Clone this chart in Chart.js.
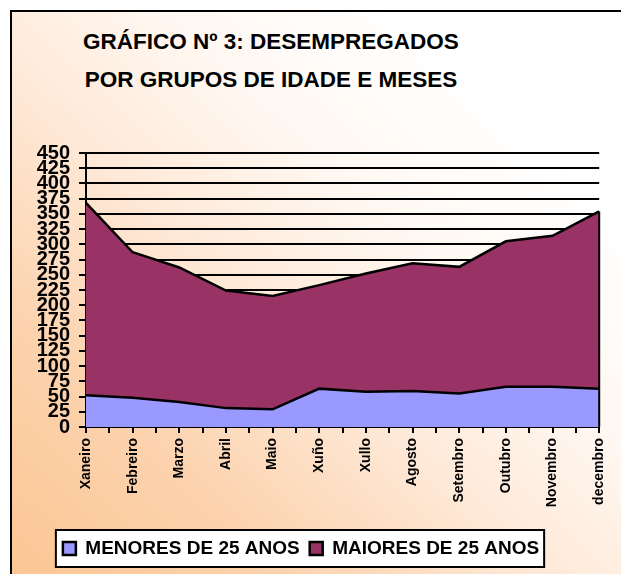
<!DOCTYPE html>
<html>
<head>
<meta charset="utf-8">
<script src="https://cdn.jsdelivr.net/npm/chart.js@4"></script>
<style>
  html, body { margin: 0; padding: 0; overflow: hidden; width: 621px; height: 574px; background: #fff; }
  #frame {
    position: absolute; left: 10px; top: 10px; width: 640px; height: 600px;
    border: 2px solid #000;
    background: linear-gradient(to top right, #FBC490 0%, #FCD3AE 25%, #FEE9D8 45%, #FFF8F2 62%, #FFFFFF 80%);
  }
  #title {
    position: absolute; left: 0; top: 23px; width: 542px; text-align: center;
    font: bold 22.5px "Liberation Sans", Arial, sans-serif; line-height: 38px; color: #000;
  }
  #wrap { position: absolute; left: 0; top: 0; width: 621px; height: 574px; }
</style>
</head>
<body>
<div id="frame"></div>
<div id="title">GRÁFICO Nº 3: DESEMPREGADOS<br>POR GRUPOS DE IDADE E MESES</div>
<div id="wrap"><canvas id="chart"></canvas></div>
<script>
const months = ['Xaneiro', 'Febreiro', 'Marzo', 'Abril', 'Maio', 'Xuño', 'Xullo', 'Agosto', 'Setembro', 'Outubro', 'Novembro', 'decembro'];
const menores = [52, 48, 41, 31, 29, 63, 58, 59, 55, 66, 66, 63];
const maiores = [316, 239, 221, 193, 186, 170, 194, 210, 208, 239, 248, 291];
const yMax = 450;
const yStep = 25;

Chart.defaults.font.family = '"Liberation Sans", Arial, sans-serif';
Chart.defaults.color = '#000';

// legend box + right edge of the area
const extras = {
    id: 'extras',
    beforeDraw(chart) {
        const boxes = chart.legend.legendHitBoxes;
        if (!boxes || !boxes.length) return;
        const ctx = chart.ctx;
        const left = Math.min(...boxes.map(b => b.left)) - 7;
        const right = Math.max(...boxes.map(b => b.left + b.width)) + 5;
        const top = boxes[0].top - 9;
        const bottom = boxes[0].top + boxes[0].height + 9;
        ctx.save();
        ctx.fillStyle = '#fff';
        ctx.fillRect(left, top, right - left, bottom - top);
        ctx.strokeStyle = '#000';
        ctx.lineWidth = 2;
        ctx.strokeRect(left, top, right - left, bottom - top);
        ctx.restore();
    },
    afterDatasetsDraw(chart) {
        const meta = chart.getDatasetMeta(1);
        const last = meta.data[meta.data.length - 1];
        const y0 = chart.scales.y.getPixelForValue(0);
        const ctx = chart.ctx;
        ctx.save();
        ctx.strokeStyle = '#000';
        ctx.lineWidth = 2;
        ctx.beginPath();
        ctx.moveTo(last.x, y0);
        ctx.lineTo(last.x, last.y);
        ctx.stroke();
        ctx.restore();
    }
};

const ctx = document.getElementById('chart').getContext('2d');
new Chart(ctx, {
    type: 'line',
    data: {
        datasets: [{
            label: 'MENORES DE 25 ANOS',
            data: months.map((m, i) => ({ x: i, y: menores[i] })),
            backgroundColor: '#9999FF',
            borderColor: '#000',
            borderWidth: 2.5,
            fill: 'origin',
            pointRadius: 0,
            tension: 0
        }, {
            label: 'MAIORES DE 25 ANOS',
            data: months.map((m, i) => ({ x: i, y: maiores[i] })),
            backgroundColor: '#993366',
            borderColor: '#000',
            borderWidth: 2.5,
            fill: '-1',
            pointRadius: 0,
            tension: 0
        }]
    },
    options: {
        responsive: true,
        maintainAspectRatio: false,
        animation: false,
        layout: { padding: { left: 0, right: 19, top: 153, bottom: 6 } },
        plugins: {
            title: { display: false },
            tooltip: { enabled: false },
            legend: {
                position: 'bottom',
                labels: {
                    font: { size: 19, weight: 'bold' },
                    boxWidth: 13,
                    boxHeight: 13,
                    padding: 10
                }
            }
        },
        scales: {
            x: {
                type: 'linear',
                min: 0,
                max: months.length - 1,
                afterFit(scale) { scale.height = 102; },
                border: { color: '#000', width: 2 },
                grid: { drawOnChartArea: false, color: '#000', lineWidth: 2, tickLength: 6 },
                ticks: {
                    stepSize: 0.5,
                    autoSkip: false,
                    minRotation: 90,
                    maxRotation: 90,
                    padding: 5,
                    font: { size: 14, weight: 'bold' },
                    callback: v => Number.isInteger(v) ? months[v] : ''
                }
            },
            y: {
                stacked: true,
                min: 0,
                max: yMax,
                afterFit(scale) { scale.width = 86; },
                border: { color: '#000', width: 2 },
                grid: { color: '#000', lineWidth: 2, tickLength: 7, tickWidth: 2 },
                ticks: {
                    stepSize: yStep,
                    autoSkip: false,
                    padding: 9,
                    font: { size: 20, weight: 'bold' }
                }
            }
        }
    },
    plugins: [extras]
});
</script>
</body>
</html>
